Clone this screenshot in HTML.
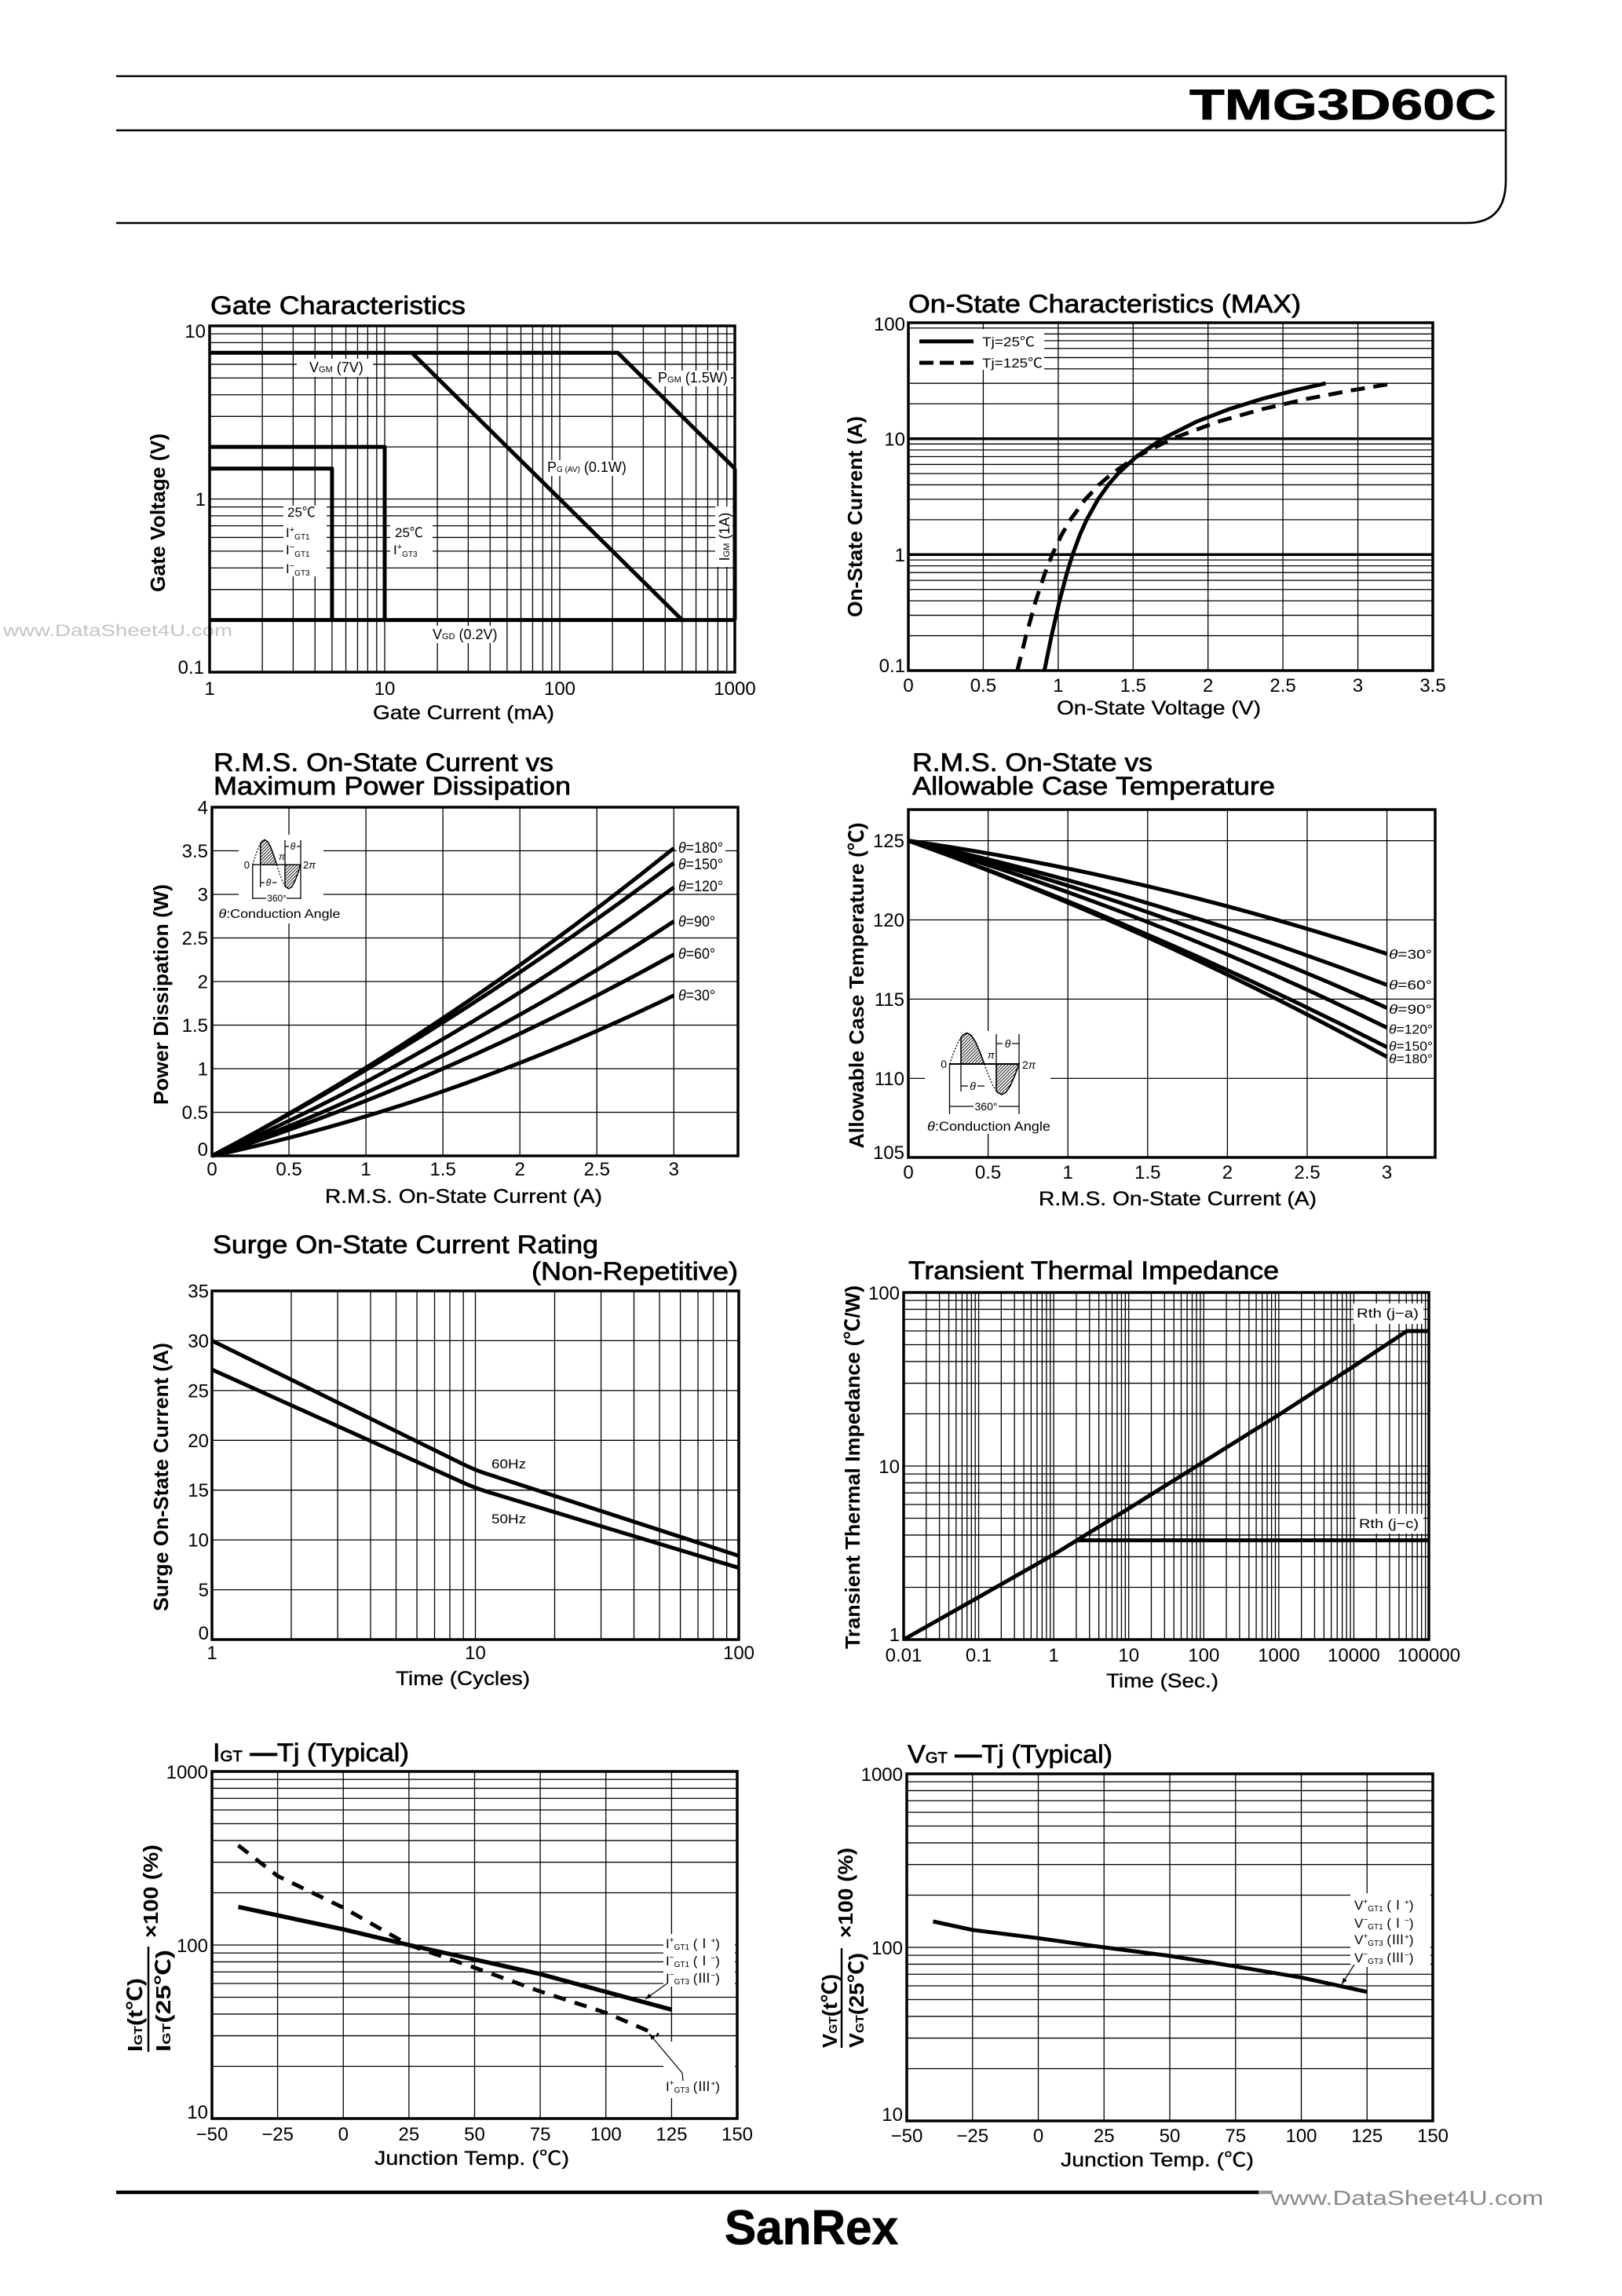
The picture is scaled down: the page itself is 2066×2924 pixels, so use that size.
<!DOCTYPE html>
<html><head><meta charset="utf-8"><style>
html,body{margin:0;padding:0;background:#fff;}
svg{display:block;}
text{font-family:"Liberation Sans","Noto Sans CJK JP",sans-serif;fill:#000;}
.g{stroke:#000;stroke-width:1.3;fill:none;}
.f{stroke:#000;stroke-width:3.5;fill:none;}
.c{stroke:#000;stroke-width:5;fill:none;stroke-linejoin:round;}
.d{stroke:#000;stroke-width:5;fill:none;stroke-dasharray:18 11;}
.t{font-size:32px;stroke:#000;stroke-width:0.7;}
.k{font-size:24px;}
.r{text-anchor:end;}
.m{text-anchor:middle;}
.x{font-size:25px;stroke:#000;stroke-width:0.35;}
.y{font-size:26px;font-weight:bold;}
.s{font-size:17px;}
.w{fill:#fff;stroke:none;}
.th{stroke:#000;stroke-width:1.3;fill:none;}
</style></head><body>
<svg width="2066" height="2924" viewBox="0 0 2066 2924" xmlns="http://www.w3.org/2000/svg">
<defs>
<pattern id="h" patternUnits="userSpaceOnUse" width="4" height="4"><path d="M-1,1 L1,-1 M0,4 L4,0 M3,5 L5,3" stroke="#000" stroke-width="0.9"/></pattern>
</defs>
<rect x="0" y="0" width="2066" height="2924" fill="#fff"/>

<!-- HEADER -->
<path d="M148 97H1918V230Q1918 284 1868 284H148" fill="none" stroke="#000" stroke-width="2.6"/>
<path d="M148 166H1918" fill="none" stroke="#000" stroke-width="2.6"/>
<text x="1515" y="152" font-size="55" font-weight="bold" stroke="#000" stroke-width="0.8" textLength="391" lengthAdjust="spacingAndGlyphs">TMG3D60C</text>

<!-- watermark left -->
<text x="4" y="810" font-size="21" style="fill:#c4c4c4" textLength="292" lengthAdjust="spacingAndGlyphs">www.DataSheet4U.com</text>

<!-- ============ GATE CHARACTERISTICS ============ -->
<text class="t" x="268" y="400" textLength="325" lengthAdjust="spacingAndGlyphs">Gate Characteristics</text>
<path class="g" transform="translate(267 415)" d="M67.13 0v441M106.4 0v441M134.26 0v441M155.87 0v441M173.53 0v441M188.46 0v441M201.39 0v441M212.8 0v441M223 0v441"/>
<path class="g" transform="translate(490 415)" d="M67.13 0v441M106.4 0v441M134.26 0v441M155.87 0v441M173.53 0v441M188.46 0v441M201.39 0v441M212.8 0v441M223 0v441"/>
<path class="g" transform="translate(713 415)" d="M67.13 0v441M106.4 0v441M134.26 0v441M155.87 0v441M173.53 0v441M188.46 0v441M201.39 0v441M212.8 0v441"/>
<path class="g" transform="translate(267 856)" d="M0 -66.38h669M0 -105.21h669M0 -132.75h669M0 -154.12h669M0 -171.58h669M0 -186.34h669M0 -199.13h669M0 -210.41h669M0 -220.5h669"/>
<path class="g" transform="translate(267 635.5)" d="M0 -66.38h669M0 -105.21h669M0 -132.75h669M0 -154.12h669M0 -171.58h669M0 -186.34h669M0 -199.13h669M0 -210.41h669"/>
<rect class="w" x="378" y="457" width="97" height="23"/>
<rect class="w" x="830" y="472" width="101" height="20"/>
<rect class="w" x="695" y="586" width="115" height="20"/>
<rect class="w" x="911" y="645" width="22" height="77"/>
<rect class="w" x="548" y="797" width="90" height="22"/>
<rect class="w" x="361" y="644" width="55" height="90"/>
<rect class="w" x="497" y="668" width="54" height="43"/>
<path class="c" d="M267 449.2H786.8L936 596.7"/>
<path class="c" d="M524.6 449.2L868.9 789.6"/>
<path class="c" d="M267 789.6H936"/>
<path class="c" d="M936 596.7V789.6"/>
<path class="c" d="M267 569.1H490V789.6"/>
<path class="c" d="M267 596.7H422.9V789.6"/>
<rect class="f" x="267" y="415" width="669" height="441"/>
<text x="394" y="474" font-size="18">V<tspan font-size="11">GM</tspan> (7V)</text>
<text x="838" y="487" font-size="18">P<tspan font-size="11">GM</tspan> (1.5W)</text>
<text x="697" y="601" font-size="18">P<tspan font-size="10">G (AV)</tspan> (0.1W)</text>
<text x="551" y="814" font-size="18">V<tspan font-size="11">GD</tspan> (0.2V)</text>
<text font-size="18" text-anchor="middle" transform="translate(929 683.5) rotate(-90)">I<tspan font-size="11">GM</tspan> (1A)</text>
<text class="s" x="366" y="658">25℃</text>
<text class="s" x="364" y="684" font-family="Liberation Serif,serif">I<tspan font-size="11" dy="-6">+</tspan><tspan font-size="10" dy="9" font-family="Liberation Sans,sans-serif">GT1</tspan></text>
<text class="s" x="364" y="706" font-family="Liberation Serif,serif">I<tspan font-size="11" dy="-6">−</tspan><tspan font-size="10" dy="9" font-family="Liberation Sans,sans-serif">GT1</tspan></text>
<text class="s" x="364" y="730" font-family="Liberation Serif,serif">I<tspan font-size="11" dy="-6">−</tspan><tspan font-size="10" dy="9" font-family="Liberation Sans,sans-serif">GT3</tspan></text>
<text class="s" x="503" y="684">25℃</text>
<text class="s" x="501" y="706" font-family="Liberation Serif,serif">I<tspan font-size="11" dy="-6">+</tspan><tspan font-size="10" dy="9" font-family="Liberation Sans,sans-serif">GT3</tspan></text>
<text class="k r" x="262" y="430">10</text>
<text class="k r" x="262" y="644">1</text>
<text class="k r" x="260" y="858">0.1</text>
<text class="k m" x="267" y="885">1</text>
<text class="k m" x="490" y="885">10</text>
<text class="k m" x="713" y="885">100</text>
<text class="k m" x="936" y="885">1000</text>
<text class="x" x="475" y="916" textLength="231" lengthAdjust="spacingAndGlyphs">Gate Current (mA)</text>
<text class="y m" transform="translate(210 653) rotate(-90)" textLength="202" lengthAdjust="spacingAndGlyphs">Gate Voltage (V)</text>

<!-- ============ ON-STATE CHARACTERISTICS ============ -->
<text class="t" x="1157" y="398" textLength="500" lengthAdjust="spacingAndGlyphs">On-State Characteristics (MAX)</text>
<path class="g" d="M1252.4 411V854M1347.9 411V854M1443.3 411V854M1538.7 411V854M1634.1 411V854M1729.6 411V854"/>
<path class="g" transform="translate(1157 854)" d="M0 -44.45h668M0 -70.46h668M0 -88.91h668M0 -103.22h668M0 -114.91h668M0 -124.8h668M0 -133.36h668M0 -140.91h668"/>
<path class="g" transform="translate(1157 706.33)" d="M0 -44.45h668M0 -70.46h668M0 -88.91h668M0 -103.22h668M0 -114.91h668M0 -124.8h668M0 -133.36h668M0 -140.91h668"/>
<path class="g" transform="translate(1157 558.67)" d="M0 -44.45h668M0 -70.46h668M0 -88.91h668M0 -103.22h668M0 -114.91h668M0 -124.8h668M0 -133.36h668M0 -140.91h668"/>
<path class="f" d="M1157 706.3H1825M1157 558.7H1825"/>
<rect class="w" x="1159" y="419" width="171" height="52"/>
<path class="c" d="M1171 434.7H1240"/>
<path class="c" d="M1171 462H1240" style="stroke-dasharray:18 8"/>
<text class="s" x="1251" y="441" textLength="67" lengthAdjust="spacingAndGlyphs">Tj=25℃</text>
<text class="s" x="1251" y="468" textLength="77" lengthAdjust="spacingAndGlyphs">Tj=125℃</text>
<polyline class="c" points="1330.3,854 1339.4,809.55 1349.6,765.1 1359.1,729.2 1366.2,706.3 1375.8,680.3 1384.1,661.9 1398.6,635.9 1411.7,617.4 1424.1,603.1 1447.5,581.5 1480.9,558.7 1523.8,537.1 1565.7,521 1607,508.1 1647.9,497.4 1688.5,488.2"/>
<polyline class="d" points="1295.8,854 1306.9,809.55 1319.3,765.1 1331.2,729.2 1340.2,706.3 1352.6,680.3 1363.4,661.9 1382.4,635.9 1399.8,617.4 1416.3,603.1 1447.8,581.5 1492.9,558.7 1551.1,537.1 1608.1,521 1664.3,508.1 1720.1,497.4 1768.7,489.3"/>
<rect class="f" x="1157" y="411" width="668" height="443"/>
<text class="k r" x="1153" y="421">100</text>
<text class="k r" x="1153" y="567.5">10</text>
<text class="k r" x="1153" y="715">1</text>
<text class="k r" x="1153" y="856">0.1</text>
<text class="k m" x="1157" y="881">0</text>
<text class="k m" x="1252.4" y="881">0.5</text>
<text class="k m" x="1347.9" y="881">1</text>
<text class="k m" x="1443.3" y="881">1.5</text>
<text class="k m" x="1538.7" y="881">2</text>
<text class="k m" x="1634.1" y="881">2.5</text>
<text class="k m" x="1729.6" y="881">3</text>
<text class="k m" x="1825" y="881">3.5</text>
<text class="x" x="1346" y="910" textLength="260" lengthAdjust="spacingAndGlyphs">On-State Voltage (V)</text>
<text class="y m" transform="translate(1098 658) rotate(-90)" textLength="256" lengthAdjust="spacingAndGlyphs">On-State Current (A)</text>

<!-- ============ RMS POWER ============ -->
<text class="t" x="272" y="982" textLength="433" lengthAdjust="spacingAndGlyphs">R.M.S. On-State Current vs</text>
<text class="t" x="272" y="1012" textLength="455" lengthAdjust="spacingAndGlyphs">Maximum Power Dissipation</text>
<path class="g" d="M368.05 1028V1472M466.1 1028V1472M564.15 1028V1472M662.2 1028V1472M760.25 1028V1472M858.3 1028V1472"/>
<path class="g" d="M270 1416.5H940M270 1361H940M270 1305.5H940M270 1250H940M270 1194.5H940M270 1139H940M270 1083.5H940"/>
<rect class="w" x="304" y="1063" width="108" height="113"/>
<rect class="w" x="862" y="1070" width="62" height="20"/>
<path d="M331.7,1101.2 L331.7,1074.2 L333.28,1071.82 L337.1,1069.4 L340.93,1071.82 L344.75,1078.71 L348.58,1089.03 L352.4,1101.2 Z" fill="url(#h)" stroke="#000" stroke-width="1.5"/>
<path d="M363,1101.2 L363,1128.3 L363.88,1129.47 L367.7,1131.8 L371.53,1129.47 L375.35,1122.84 L379.18,1112.91 L383,1101.2 Z" fill="url(#h)" stroke="#000" stroke-width="1.5"/>
<path d="M321.8,1101.2 L325.63,1089.03 L329.45,1078.71 L331.7,1074.2" fill="none" stroke="#000" stroke-width="1.2" stroke-dasharray="2 2"/>
<path d="M352.4,1101.2 L356.23,1112.91 L360.05,1122.84 L363,1128.3" fill="none" stroke="#000" stroke-width="1.2" stroke-dasharray="2 2"/>
<path class="th" d="M321.8 1101.2H383M321.8 1101V1145M383 1070V1145M331.7 1101V1130M363 1070V1101M363 1078H383M331.7 1124H352.4M321.8 1144H383"/>
<text x="318" y="1106" font-size="13" text-anchor="end">0</text>
<text x="355" y="1095" font-size="12" font-style="italic">π</text>
<text x="386" y="1106" font-size="13">2<tspan font-style="italic">π</tspan></text>
<rect class="w" x="368" y="1071" width="10" height="13"/>
<text x="373" y="1082" font-size="12" font-style="italic" text-anchor="middle">θ</text>
<rect class="w" x="337" y="1117" width="10" height="13"/>
<text x="342" y="1128" font-size="12" font-style="italic" text-anchor="middle">θ</text>
<rect class="w" x="339" y="1137" width="26" height="13"/>
<text x="352.6" y="1148" font-size="12" text-anchor="middle">360°</text>
<text x="278.5" y="1169" font-size="16" textLength="155" lengthAdjust="spacingAndGlyphs"><tspan font-style="italic">θ</tspan>:Conduction Angle</text>
<path class="c" d="M270 1472Q564.15 1317.2 858.3 1080.2"/>
<path class="c" d="M270 1472Q564.15 1318.8 858.3 1099"/>
<path class="c" d="M270 1472Q564.15 1345.5 858.3 1130.1"/>
<path class="c" d="M270 1472Q564.15 1366 858.3 1173.4"/>
<path class="c" d="M270 1472Q564.15 1378.2 858.3 1215.6"/>
<path class="c" d="M270 1472Q564.15 1409.8 858.3 1267.8"/>
<rect class="f" x="270" y="1028" width="670" height="444"/>
<text x="864" y="1086" font-size="19" textLength="57" lengthAdjust="spacingAndGlyphs"><tspan font-style="italic">θ</tspan>=180°</text>
<text x="864" y="1107" font-size="19" textLength="57" lengthAdjust="spacingAndGlyphs"><tspan font-style="italic">θ</tspan>=150°</text>
<text x="864" y="1135" font-size="19" textLength="57" lengthAdjust="spacingAndGlyphs"><tspan font-style="italic">θ</tspan>=120°</text>
<text x="864" y="1180" font-size="19" textLength="47" lengthAdjust="spacingAndGlyphs"><tspan font-style="italic">θ</tspan>=90°</text>
<text x="864" y="1221" font-size="19" textLength="47" lengthAdjust="spacingAndGlyphs"><tspan font-style="italic">θ</tspan>=60°</text>
<text x="864" y="1274" font-size="19" textLength="47" lengthAdjust="spacingAndGlyphs"><tspan font-style="italic">θ</tspan>=30°</text>
<text class="k r" x="265" y="1036.5">4</text>
<text class="k r" x="265" y="1092">3.5</text>
<text class="k r" x="265" y="1147.5">3</text>
<text class="k r" x="265" y="1203">2.5</text>
<text class="k r" x="265" y="1258.5">2</text>
<text class="k r" x="265" y="1314">1.5</text>
<text class="k r" x="265" y="1369.5">1</text>
<text class="k r" x="265" y="1425">0.5</text>
<text class="k r" x="265" y="1472">0</text>
<text class="k m" x="270" y="1497">0</text>
<text class="k m" x="368.05" y="1497">0.5</text>
<text class="k m" x="466.1" y="1497">1</text>
<text class="k m" x="564.15" y="1497">1.5</text>
<text class="k m" x="662.2" y="1497">2</text>
<text class="k m" x="760.25" y="1497">2.5</text>
<text class="k m" x="858.3" y="1497">3</text>
<text class="x" x="414" y="1532" textLength="353" lengthAdjust="spacingAndGlyphs">R.M.S. On-State Current (A)</text>
<text class="y m" transform="translate(214 1266.5) rotate(-90)" textLength="281" lengthAdjust="spacingAndGlyphs">Power Dissipation (W)</text>

<!-- ============ CASE TEMPERATURE ============ -->
<text class="t" x="1162" y="982" textLength="306" lengthAdjust="spacingAndGlyphs">R.M.S. On-State vs</text>
<text class="t" x="1162" y="1012" textLength="462" lengthAdjust="spacingAndGlyphs">Allowable Case Temperature</text>
<path class="g" d="M1258.6 1031V1474M1360.2 1031V1474M1461.8 1031V1474M1563.4 1031V1474M1665 1031V1474M1766.6 1031V1474"/>
<path class="g" d="M1157 1070.6H1828M1157 1171.5H1828M1157 1272.4H1828M1157 1373.4H1828"/>
<rect class="w" x="1178" y="1313" width="160" height="131"/>
<path d="M1224,1355 L1224,1321.1 L1226.09,1318.51 L1231.63,1315.5 L1237.16,1318.51 L1242.69,1327.07 L1248.22,1339.88 L1253.75,1355 Z" fill="url(#h)" stroke="#000" stroke-width="1.6"/>
<path d="M1269,1355 L1269,1389.4 L1270.34,1391.03 L1275.88,1394 L1281.41,1391.03 L1286.94,1382.58 L1292.47,1369.93 L1298,1355 Z" fill="url(#h)" stroke="#000" stroke-width="1.6"/>
<path d="M1209.5,1355 L1215.03,1339.88 L1220.56,1327.07 L1224,1321.1" fill="none" stroke="#000" stroke-width="1.3" stroke-dasharray="2 2"/>
<path d="M1253.75,1355 L1259.28,1369.93 L1264.81,1382.58 L1269,1389.4" fill="none" stroke="#000" stroke-width="1.3" stroke-dasharray="2 2"/>
<path class="th" d="M1209.5 1355H1298" style="stroke-width:2"/>
<path class="th" d="M1209.5 1355V1419M1298 1317V1419M1224 1355V1390M1269 1317V1384M1269 1329H1298M1224 1383H1254M1209.5 1409H1298"/>
<text x="1206" y="1360" font-size="14" text-anchor="end">0</text>
<text x="1258" y="1348" font-size="13" font-style="italic">π</text>
<text x="1302" y="1361" font-size="14">2<tspan font-style="italic">π</tspan></text>
<rect class="w" x="1277" y="1321" width="12" height="15"/>
<text x="1283.5" y="1334" font-size="14" font-style="italic" text-anchor="middle">θ</text>
<rect class="w" x="1233" y="1375" width="12" height="15"/>
<text x="1239" y="1388" font-size="14" font-style="italic" text-anchor="middle">θ</text>
<rect class="w" x="1240" y="1401" width="32" height="15"/>
<text x="1256" y="1414" font-size="14" text-anchor="middle">360°</text>
<text x="1181" y="1440" font-size="17" textLength="157" lengthAdjust="spacingAndGlyphs"><tspan font-style="italic">θ</tspan>:Conduction Angle</text>
<path class="c" d="M1157 1070.6Q1461.8 1114.5 1766.6 1214.7"/>
<path class="c" d="M1157 1070.6Q1461.8 1137.8 1766.6 1254.3"/>
<path class="c" d="M1157 1070.6Q1461.8 1146.2 1766.6 1283.6"/>
<path class="c" d="M1157 1070.6Q1461.8 1158.8 1766.6 1308.8"/>
<path class="c" d="M1157 1070.6Q1461.8 1178.6 1766.6 1333.6"/>
<path class="c" d="M1157 1070.6Q1461.8 1179.4 1766.6 1345.9"/>
<rect class="f" x="1157" y="1031" width="671" height="443"/>
<text x="1769" y="1221" font-size="17" textLength="55" lengthAdjust="spacingAndGlyphs"><tspan font-style="italic">θ</tspan>=30°</text>
<text x="1769" y="1260" font-size="17" textLength="55" lengthAdjust="spacingAndGlyphs"><tspan font-style="italic">θ</tspan>=60°</text>
<text x="1769" y="1291" font-size="17" textLength="55" lengthAdjust="spacingAndGlyphs"><tspan font-style="italic">θ</tspan>=90°</text>
<text x="1769" y="1316.5" font-size="17" textLength="56" lengthAdjust="spacingAndGlyphs"><tspan font-style="italic">θ</tspan>=120°</text>
<text x="1769" y="1338" font-size="17" textLength="56" lengthAdjust="spacingAndGlyphs"><tspan font-style="italic">θ</tspan>=150°</text>
<text x="1769" y="1354" font-size="17" textLength="56" lengthAdjust="spacingAndGlyphs"><tspan font-style="italic">θ</tspan>=180°</text>
<text class="k r" x="1152" y="1079">125</text>
<text class="k r" x="1152" y="1180">120</text>
<text class="k r" x="1152" y="1281">115</text>
<text class="k r" x="1152" y="1382">110</text>
<text class="k r" x="1152" y="1476">105</text>
<text class="k m" x="1157" y="1501">0</text>
<text class="k m" x="1258.6" y="1501">0.5</text>
<text class="k m" x="1360.2" y="1501">1</text>
<text class="k m" x="1461.8" y="1501">1.5</text>
<text class="k m" x="1563.4" y="1501">2</text>
<text class="k m" x="1665" y="1501">2.5</text>
<text class="k m" x="1766.6" y="1501">3</text>
<text class="x" x="1323" y="1535" textLength="354" lengthAdjust="spacingAndGlyphs">R.M.S. On-State Current (A)</text>
<text class="y m" transform="translate(1100 1255) rotate(-90)" textLength="415" lengthAdjust="spacingAndGlyphs">Allowable Case Temperature (℃)</text>

<!-- ============ SURGE ============ -->
<text class="t" x="271" y="1596" textLength="491" lengthAdjust="spacingAndGlyphs">Surge On-State Current Rating</text>
<text class="t" x="677" y="1630" textLength="263" lengthAdjust="spacingAndGlyphs">(Non-Repetitive)</text>
<path class="g" transform="translate(270 1644)" d="M101 0v444M160.07 0v444M201.99 0v444M234.5 0v444M261.07 0v444M283.53 0v444M302.99 0v444M320.15 0v444M335.5 0v444"/>
<path class="g" transform="translate(605.5 1644)" d="M101 0v444M160.07 0v444M201.99 0v444M234.5 0v444M261.07 0v444M283.53 0v444M302.99 0v444M320.15 0v444"/>
<path class="g" d="M270 2024.6H941M270 1961.1H941M270 1897.7H941M270 1834.3H941M270 1770.9H941M270 1707.4H941"/>
<path class="c" d="M270 1707.4L590 1864.7Q605.5 1872.3 621 1877.3L941 1981.4"/>
<path class="c" d="M270 1744.2L590 1888.2Q605.5 1895.2 621 1899.9L941 1996.7"/>
<rect class="f" x="270" y="1644" width="671" height="444"/>
<text class="s" x="626" y="1870" textLength="44" lengthAdjust="spacingAndGlyphs">60Hz</text>
<text class="s" x="626" y="1940" textLength="44" lengthAdjust="spacingAndGlyphs">50Hz</text>
<text class="k r" x="266" y="1652.5">35</text>
<text class="k r" x="266" y="1716">30</text>
<text class="k r" x="266" y="1779.5">25</text>
<text class="k r" x="266" y="1843">20</text>
<text class="k r" x="266" y="1906">15</text>
<text class="k r" x="266" y="1969.5">10</text>
<text class="k r" x="266" y="2033">5</text>
<text class="k r" x="266" y="2088">0</text>
<text class="k m" x="270" y="2113">1</text>
<text class="k m" x="605.5" y="2113">10</text>
<text class="k m" x="941" y="2113">100</text>
<text class="x" x="504" y="2146" textLength="171" lengthAdjust="spacingAndGlyphs">Time (Cycles)</text>
<text class="y m" transform="translate(214 1881) rotate(-90)" textLength="342" lengthAdjust="spacingAndGlyphs">Surge On-State Current (A)</text>

<!-- ============ TRANSIENT THERMAL IMPEDANCE ============ -->
<text class="t" x="1157" y="1629" textLength="472" lengthAdjust="spacingAndGlyphs">Transient Thermal Impedance</text>
<path class="g" transform="translate(1151 1646)" d="M28.77 0v442M45.6 0v442M57.54 0v442M66.8 0v442M74.37 0v442M80.77 0v442M86.31 0v442M91.2 0v442M95.57 0v442"/>
<path class="g" transform="translate(1246.57 1646)" d="M28.77 0v442M45.6 0v442M57.54 0v442M66.8 0v442M74.37 0v442M80.77 0v442M86.31 0v442M91.2 0v442M95.57 0v442"/>
<path class="g" transform="translate(1342.14 1646)" d="M28.77 0v442M45.6 0v442M57.54 0v442M66.8 0v442M74.37 0v442M80.77 0v442M86.31 0v442M91.2 0v442M95.57 0v442"/>
<path class="g" transform="translate(1437.71 1646)" d="M28.77 0v442M45.6 0v442M57.54 0v442M66.8 0v442M74.37 0v442M80.77 0v442M86.31 0v442M91.2 0v442M95.57 0v442"/>
<path class="g" transform="translate(1533.28 1646)" d="M28.77 0v442M45.6 0v442M57.54 0v442M66.8 0v442M74.37 0v442M80.77 0v442M86.31 0v442M91.2 0v442M95.57 0v442"/>
<path class="g" transform="translate(1628.86 1646)" d="M28.77 0v442M45.6 0v442M57.54 0v442M66.8 0v442M74.37 0v442M80.77 0v442M86.31 0v442M91.2 0v442M95.57 0v442"/>
<path class="g" transform="translate(1724.43 1646)" d="M28.77 0v442M45.6 0v442M57.54 0v442M66.8 0v442M74.37 0v442M80.77 0v442M86.31 0v442M91.2 0v442"/>
<path class="g" transform="translate(1151 2088)" d="M0 -66.53h669M0 -105.44h669M0 -133.06h669M0 -154.47h669M0 -171.97h669M0 -186.77h669M0 -199.58h669M0 -210.89h669M0 -221h669"/>
<path class="g" transform="translate(1151 1867)" d="M0 -66.53h669M0 -105.44h669M0 -133.06h669M0 -154.47h669M0 -171.97h669M0 -186.77h669M0 -199.58h669M0 -210.89h669"/>
<rect class="w" x="1724" y="1660" width="89" height="26"/>
<rect class="w" x="1727" y="1928" width="86" height="25"/>
<path class="c" d="M1151 2088L1246.6 2033.9L1342.1 1979.7L1437.7 1921.1L1533.3 1861.5L1628.9 1801.8L1724.4 1739.9L1792 1695.1H1820"/>
<path class="c" d="M1372 1961.6H1820"/>
<rect class="f" x="1151" y="1646" width="669" height="442"/>
<text class="s" x="1728" y="1678" textLength="79" lengthAdjust="spacingAndGlyphs">Rth (j−a)</text>
<text class="s" x="1731" y="1946" textLength="76" lengthAdjust="spacingAndGlyphs">Rth (j−c)</text>
<text class="k r" x="1146" y="1655">100</text>
<text class="k r" x="1146" y="1876">10</text>
<text class="k r" x="1146" y="2090">1</text>
<text class="k m" x="1151" y="2116">0.01</text>
<text class="k m" x="1246.6" y="2116">0.1</text>
<text class="k m" x="1342.1" y="2116">1</text>
<text class="k m" x="1437.7" y="2116">10</text>
<text class="k m" x="1533.3" y="2116">100</text>
<text class="k m" x="1628.9" y="2116">1000</text>
<text class="k m" x="1724.4" y="2116">10000</text>
<text class="k m" x="1820" y="2116">100000</text>
<text class="x" x="1409" y="2149" textLength="143" lengthAdjust="spacingAndGlyphs">Time (Sec.)</text>
<text class="y m" transform="translate(1095 1868.5) rotate(-90)" textLength="463" lengthAdjust="spacingAndGlyphs">Transient Thermal Impedance (℃/W)</text>

<!-- ============ IGT - Tj ============ -->
<text class="t" x="271" y="2243" textLength="250" lengthAdjust="spacingAndGlyphs">I<tspan font-size="19">GT</tspan> <tspan font-weight="bold">—</tspan>Tj (Typical)</text>
<path class="g" d="M353.6 2256V2698M437.25 2256V2698M520.9 2256V2698M604.5 2256V2698M688.1 2256V2698M771.75 2256V2698M855.4 2256V2698"/>
<path class="g" transform="translate(270 2698)" d="M0 -66.53h669M0 -105.44h669M0 -133.06h669M0 -154.47h669M0 -171.97h669M0 -186.77h669M0 -199.58h669M0 -210.89h669M0 -221h669"/>
<path class="g" transform="translate(270 2477)" d="M0 -66.53h669M0 -105.44h669M0 -133.06h669M0 -154.47h669M0 -171.97h669M0 -186.77h669M0 -199.58h669M0 -210.89h669"/>
<rect class="w" x="845" y="2463" width="91" height="67"/>
<rect class="w" x="845" y="2600" width="91" height="72"/>
<path class="c" style="stroke-width:5.5" d="M303.5 2428.4L353.6 2439.2L437.3 2457.1L520.9 2477L604.5 2495.5L688.1 2514L771.8 2536.7L855.4 2559.3"/>
<path class="d" style="stroke-dasharray:16 12" d="M303.5 2350.1L353.6 2389.1L437.3 2429.5L520.9 2477L604.5 2505.9L688.1 2536.1L771.8 2563.3L838.7 2592"/>
<path stroke="#000" stroke-width="1.2" fill="none" d="M851 2525L822 2546M869 2640L827 2590M869 2640L870 2650"/>
<polygon points="822,2546 830.3,2543.7 826.7,2538.9" fill="#000"/>
<polygon points="827,2590 834.4,2594.2 829.8,2598" fill="#000"/>
<rect class="f" x="270" y="2256" width="669" height="442"/>
<text class="s" x="848" y="2481">I<tspan font-size="10" dy="-7">+</tspan><tspan font-size="10" dy="9">GT1</tspan><tspan dy="-2"> (Ⅰ</tspan><tspan font-size="10" dy="-6">+</tspan><tspan dy="6">)</tspan></text>
<text class="s" x="848" y="2503">I<tspan font-size="10" dy="-7">−</tspan><tspan font-size="10" dy="9">GT1</tspan><tspan dy="-2"> (Ⅰ</tspan><tspan font-size="10" dy="-6">−</tspan><tspan dy="6">)</tspan></text>
<text class="s" x="848" y="2525">I<tspan font-size="10" dy="-7">−</tspan><tspan font-size="10" dy="9">GT3</tspan><tspan dy="-2"> (Ⅲ</tspan><tspan font-size="10" dy="-6">−</tspan><tspan dy="6">)</tspan></text>
<text class="s" x="848" y="2663">I<tspan font-size="10" dy="-7">+</tspan><tspan font-size="10" dy="9">GT3</tspan><tspan dy="-2"> (Ⅲ</tspan><tspan font-size="10" dy="-6">+</tspan><tspan dy="6">)</tspan></text>
<text class="k r" x="265" y="2265">1000</text>
<text class="k r" x="265" y="2486">100</text>
<text class="k r" x="265" y="2698">10</text>
<text class="k m" x="270" y="2726">−50</text>
<text class="k m" x="353.6" y="2726">−25</text>
<text class="k m" x="437.25" y="2726">0</text>
<text class="k m" x="520.9" y="2726">25</text>
<text class="k m" x="604.5" y="2726">50</text>
<text class="k m" x="688.1" y="2726">75</text>
<text class="k m" x="771.75" y="2726">100</text>
<text class="k m" x="855.4" y="2726">125</text>
<text class="k m" x="939" y="2726">150</text>
<text class="x" x="477" y="2757" textLength="248" lengthAdjust="spacingAndGlyphs">Junction Temp. (℃)</text>
<g transform="translate(0 2613) rotate(-90)">
<text class="y" x="0" y="181" textLength="94" lengthAdjust="spacingAndGlyphs">I<tspan font-size="15">GT</tspan>(t℃)</text>
<line x1="0" y1="189" x2="134" y2="189" stroke="#000" stroke-width="2.5"/>
<text class="y" x="0" y="217" textLength="130" lengthAdjust="spacingAndGlyphs">I<tspan font-size="15">GT</tspan>(25℃)</text>
<text class="y" x="145" y="201" textLength="119" lengthAdjust="spacingAndGlyphs">×100 (%)</text>
</g>

<!-- ============ VGT - Tj ============ -->
<text class="t" x="1156" y="2245" textLength="261" lengthAdjust="spacingAndGlyphs">V<tspan font-size="19">GT</tspan> <tspan font-weight="bold">—</tspan>Tj (Typical)</text>
<path class="g" d="M1238.75 2259V2701M1322.5 2259V2701M1406.25 2259V2701M1490 2259V2701M1573.75 2259V2701M1657.5 2259V2701M1741.25 2259V2701"/>
<path class="g" transform="translate(1155 2701)" d="M0 -66.53h670M0 -105.44h670M0 -133.06h670M0 -154.47h670M0 -171.97h670M0 -186.77h670M0 -199.58h670M0 -210.89h670M0 -221h670"/>
<path class="g" transform="translate(1155 2480)" d="M0 -66.53h670M0 -105.44h670M0 -133.06h670M0 -154.47h670M0 -171.97h670M0 -186.77h670M0 -199.58h670M0 -210.89h670"/>
<rect class="w" x="1720" y="2411" width="102" height="94"/>
<path class="c" d="M1188.5 2447L1238.8 2457.8L1322.5 2468.3L1406.3 2480L1490 2490.9L1573.8 2504.3L1657.5 2518.4L1741.3 2536.7"/>
<path stroke="#000" stroke-width="1.2" fill="none" d="M1725 2502L1709 2527"/>
<polygon points="1709,2527 1715.8,2521.9 1710.8,2518.7" fill="#000"/>
<rect class="f" x="1155" y="2259" width="670" height="442"/>
<text class="s" x="1725" y="2432">V<tspan font-size="10" dy="-7">+</tspan><tspan font-size="10" dy="9">GT1</tspan><tspan dy="-2"> (Ⅰ</tspan><tspan font-size="10" dy="-6">+</tspan><tspan dy="6">)</tspan></text>
<text class="s" x="1725" y="2455">V<tspan font-size="10" dy="-7">−</tspan><tspan font-size="10" dy="9">GT1</tspan><tspan dy="-2"> (Ⅰ</tspan><tspan font-size="10" dy="-6">−</tspan><tspan dy="6">)</tspan></text>
<text class="s" x="1725" y="2476">V<tspan font-size="10" dy="-7">+</tspan><tspan font-size="10" dy="9">GT3</tspan><tspan dy="-2"> (Ⅲ</tspan><tspan font-size="10" dy="-6">+</tspan><tspan dy="6">)</tspan></text>
<text class="s" x="1725" y="2499">V<tspan font-size="10" dy="-7">−</tspan><tspan font-size="10" dy="9">GT3</tspan><tspan dy="-2"> (Ⅲ</tspan><tspan font-size="10" dy="-6">−</tspan><tspan dy="6">)</tspan></text>
<text class="k r" x="1150" y="2268">1000</text>
<text class="k r" x="1150" y="2489">100</text>
<text class="k r" x="1150" y="2701">10</text>
<text class="k m" x="1155" y="2728">−50</text>
<text class="k m" x="1238.75" y="2728">−25</text>
<text class="k m" x="1322.5" y="2728">0</text>
<text class="k m" x="1406.25" y="2728">25</text>
<text class="k m" x="1490" y="2728">50</text>
<text class="k m" x="1573.75" y="2728">75</text>
<text class="k m" x="1657.5" y="2728">100</text>
<text class="k m" x="1741.25" y="2728">125</text>
<text class="k m" x="1825" y="2728">150</text>
<text class="x" x="1351" y="2759" textLength="246" lengthAdjust="spacingAndGlyphs">Junction Temp. (℃)</text>
<g transform="translate(0 2608) rotate(-90)">
<text class="y" x="0" y="1066" textLength="94" lengthAdjust="spacingAndGlyphs">V<tspan font-size="15">GT</tspan>(t℃)</text>
<line x1="0" y1="1072" x2="127" y2="1072" stroke="#000" stroke-width="2.5"/>
<text class="y" x="0" y="1100" textLength="121" lengthAdjust="spacingAndGlyphs">V<tspan font-size="15">GT</tspan>(25℃)</text>
<text class="y" x="140" y="1086" textLength="115" lengthAdjust="spacingAndGlyphs">×100 (%)</text>
</g>

<!-- FOOTER -->
<path d="M148 2792H1603" stroke="#000" stroke-width="4.5" fill="none"/>
<path d="M1603 2792H1621" stroke="#999" stroke-width="4.5" fill="none"/>
<text x="1619" y="2808" font-size="26" style="fill:#8a8a8a" textLength="347" lengthAdjust="spacingAndGlyphs">www.DataSheet4U.com</text>
<text x="923" y="2858" font-size="62" font-weight="bold" stroke="#000" stroke-width="0.8" textLength="221" lengthAdjust="spacingAndGlyphs">SanRex</text>
</svg>
</body></html>
